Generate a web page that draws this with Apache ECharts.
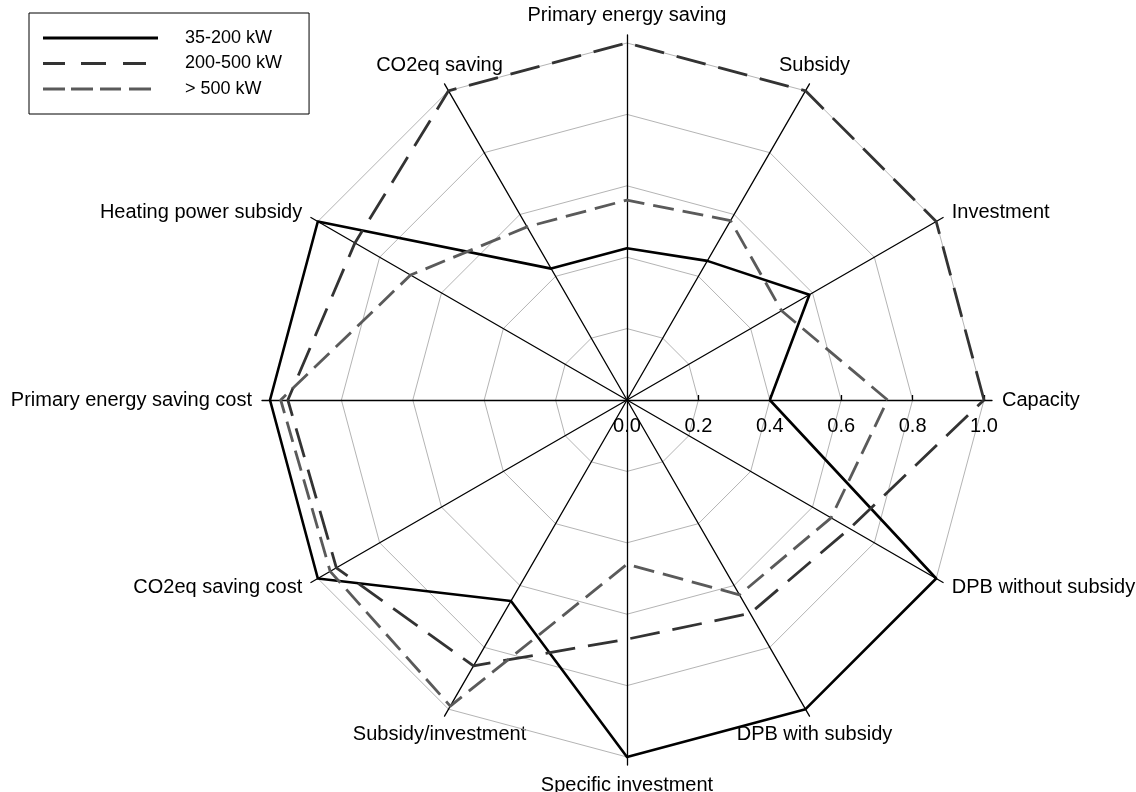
<!DOCTYPE html>
<html>
<head>
<meta charset="utf-8">
<script src="https://cdn.jsdelivr.net/npm/echarts@6/dist/echarts.min.js"></script>
<style>
  html, body { margin: 0; padding: 0; background: #fff; }
  #chart { width: 1136px; height: 792px; }
</style>
</head>
<body>
<div id="chart"></div>
<script>
// Criteria, listed counter-clockwise starting from the right-hand axis
const criteria = [
  'Capacity', 'Investment', 'Subsidy', 'Primary energy saving', 'CO2eq saving',
  'Heating power subsidy', 'Primary energy saving cost', 'CO2eq saving cost',
  'Subsidy/investment', 'Specific investment', 'DPB with subsidy', 'DPB without subsidy'
];

const seriesNames = ['35-200 kW', '200-500 kW', '> 500 kW'];

// Normalised scores per criterion (same order as criteria)
const small  = [0.40, 0.59, 0.45, 0.425, 0.425, 1.00, 1.00, 1.00, 0.65, 1.00, 1.00, 1.00];
const medium = [1.00, 1.00, 1.00, 1.00, 1.00, 0.88, 0.95, 0.94, 0.86, 0.67, 0.69, 0.72];
const large  = [0.73, 0.50, 0.58, 0.56, 0.56, 0.70, 0.97, 0.96, 0.99, 0.46, 0.63, 0.66];

// Scale ticks printed along the Capacity axis
const ticks = [0.0, 0.2, 0.4, 0.6, 0.8, 1.0];

const FONT = '"Liberation Sans", Arial, sans-serif';
const LABEL_SIZE = 20;
const CX = 627, CY = 400, R = 357, R_AXIS = 365, NAME_R = 375;
const tickMin = ticks[0], tickMax = ticks[ticks.length - 1], tickStep = ticks[1] - ticks[0];

const indicator = criteria.map(n => ({ name: n, min: tickMin, max: tickMax }));

// Criterion names placed around the web
const nameLabels = criteria.map((n, i) => {
  const a = i * 2 * Math.PI / criteria.length;
  const c = Math.cos(a), s = Math.sin(a);
  let align, valign;
  if (Math.abs(c) < 0.6) {
    align = 'center';
    valign = s > 0 ? 'bottom' : 'top';
  } else {
    align = c > 0 ? 'left' : 'right';
    valign = 'middle';
  }
  return {
    type: 'text',
    x: CX + NAME_R * c,
    y: CY - NAME_R * s,
    silent: true,
    style: {
      text: n, fill: '#000', font: LABEL_SIZE + 'px ' + FONT,
      align: align, verticalAlign: valign,
      textAlign: align, textVerticalAlign: valign
    }
  };
});

const styles = [
  { color: '#000000', type: 'solid', width: 2.6 },
  { color: '#333333', type: [30, 13], width: 2.8 },
  { color: '#5a5a5a', type: [21, 9], width: 2.8 }
];
const values = [small, medium, large];

// Legend line samples
const legendIcons = [
  'path://M0,0H115V3H0Z',
  'path://M0,0H22V3H0Z M38,0H63V3H38Z M80,0H103V3H80Z M115,0L115,3Z',
  'path://M0,0H22V3H0Z M28,0H50V3H28Z M57,0H78V3H57Z M86,0H108V3H86Z M115,0L115,3Z'
];

const chart = echarts.init(document.getElementById('chart'), null, { renderer: 'canvas' });

chart.setOption({
  backgroundColor: '#ffffff',
  animation: false,
  textStyle: { fontFamily: FONT },
  legend: {
    orient: 'vertical',
    left: 29, top: 13,
    padding: [16, 27, 16, 14],
    itemGap: 7.5,
    itemWidth: 115, itemHeight: 3,
    borderColor: '#000', borderWidth: 1,
    itemStyle: { borderWidth: 0 },
    data: seriesNames.map((n, i) => ({ name: n, icon: legendIcons[i] })),
    formatter: '{t|{name}}',
    textStyle: {
      fontSize: 18, color: '#000', fontFamily: FONT,
      rich: { t: { fontSize: 18, color: '#000', fontFamily: FONT, padding: [0, 0, 0, 22] } }
    }
  },
  radar: [
    {
      // value grid (rings every 0.2)
      center: [CX, CY], radius: R, startAngle: 0, shape: 'polygon',
      splitNumber: (tickMax - tickMin) / tickStep,
      indicator: indicator,
      axisName: { show: false },
      axisLine: { show: false },
      axisTick: { show: false },
      axisLabel: { show: false },
      splitArea: { show: false },
      splitLine: { lineStyle: { color: '#b4b4b4', width: 1 } }
    },
    {
      // spokes, running slightly past the outer ring
      center: [CX, CY], radius: R_AXIS, startAngle: 0, shape: 'polygon',
      splitNumber: 1,
      indicator: indicator,
      axisName: { show: false },
      axisLine: { lineStyle: { color: '#000', width: 1.3 } },
      axisTick: { show: false },
      axisLabel: { show: false },
      splitArea: { show: false },
      splitLine: { show: false }
    }
  ],
  // value scale along the Capacity spoke
  grid: { left: CX, top: 0, width: R, height: CY, containLabel: false },
  xAxis: {
    type: 'value', min: tickMin, max: tickMax, interval: tickStep,
    axisLine: { show: false },
    axisTick: { show: true, inside: true, length: 5, lineStyle: { color: '#000', width: 1.3 } },
    axisLabel: {
      show: true, margin: 16, fontSize: LABEL_SIZE, color: '#000', fontFamily: FONT,
      showMinLabel: true, showMaxLabel: true,
      formatter: v => v.toFixed(1)
    },
    splitLine: { show: false }
  },
  yAxis: { type: 'value', show: false },
  graphic: nameLabels,
  series: seriesNames.map((n, i) => ({
    type: 'radar',
    name: n,
    radarIndex: 0,
    symbol: 'none',
    z: 3 + i,
    itemStyle: { color: styles[i].color },
    lineStyle: { color: styles[i].color, type: styles[i].type, width: styles[i].width },
    data: [{ name: n, value: values[i] }]
  }))
});
</script>
</body>
</html>
